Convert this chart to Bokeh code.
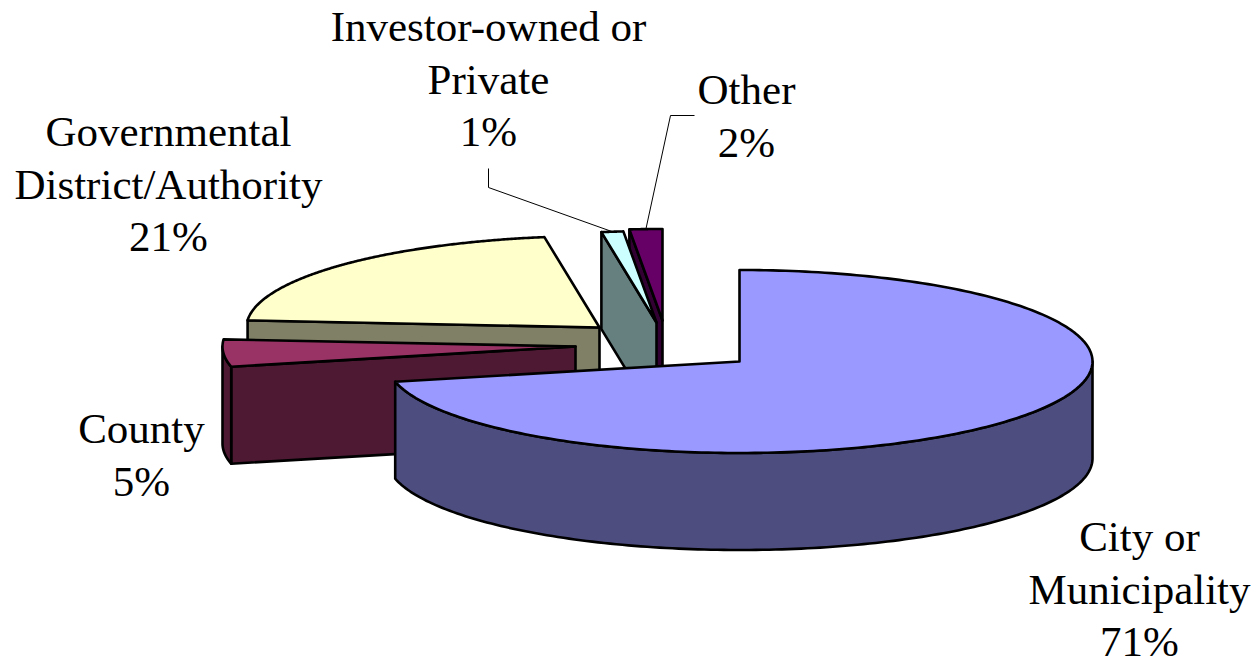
import numpy as np
from bokeh.plotting import figure
from bokeh.models import Range1d
from bokeh.core.properties import value
from bokeh.embed import file_html
from bokeh.resources import INLINE

# data
categories = ["City or Municipality", "County", "Governmental District/Authority",
              "Investor-owned or Private", "Other"]
shares = [71.6, 4.8, 21.3, 1.0, 1.5]
percent_labels = ["71%", "5%", "21%", "1%", "2%"]
label_lines = [["City or", "Municipality"], ["County"],
               ["Governmental", "District/Authority"],
               ["Investor-owned or", "Private"], ["Other"]]

# style and layout
top_colors = ["#9999ff", "#993366", "#ffffcc", "#ccffff", "#660066"]
side_colors = ["#4d4d80", "#4d1933", "#808066", "#668080", "#330033"]
explode = [(0, 0), (-164, -15), (-140, -34), (-83, -39), (-77, -41)]
label_x = [1139, 141, 168, 488, 746]
label_y = [536, 428, 131, 26, 89]
line_step = 52.5
cx, cy, rx, ry, depth = 739, 361, 353, 91.5, 97
W, H = 1259, 660
FONT = "Liberation Serif"

p = figure(width=W, height=H, output_backend="svg", toolbar_location=None,
           x_range=Range1d(0, W), y_range=Range1d(H, 0),
           min_border=0, outline_line_color=None, background_fill_color="white",
           border_fill_color="white")
p.axis.visible = False
p.grid.visible = False

total = sum(shares)
edges = np.concatenate([[0], np.cumsum(shares)]) / total * 2 * np.pi


def rim(ax, ay, t):
    return ax + rx * np.sin(t), ay - ry * np.cos(t)


LW = 2.6
# draw back to front: smallest wedges at the back, the large one in front
for i in [4, 3, 2, 1, 0]:
    a0, a1 = edges[i], edges[i + 1]
    ax, ay = cx + explode[i][0], cy + explode[i][1]
    kw_side = dict(fill_color=side_colors[i], line_color="black", line_width=LW, line_join="round")

    # the clockwise-start cut face is the one turned towards the viewer
    if i != 0:
        x0, y0 = rim(ax, ay, a0)
        p.patch([ax, x0, x0, ax], [ay, y0, y0 + depth, ay + depth], **kw_side)

    # outer wall: only the part on the front half of the ellipse
    lo, hi = max(a0, np.pi / 2), min(a1, 3 * np.pi / 2)
    if hi > lo:
        t = np.linspace(lo, hi, 160)
        xr, yr = rim(ax, ay, t)
        p.patch(np.r_[xr, xr[::-1]], np.r_[yr, yr[::-1] + depth], **kw_side)

    # top face
    t = np.linspace(a0, a1, 240)
    xr, yr = rim(ax, ay, t)
    p.patch(np.r_[ax, xr], np.r_[ay, yr], fill_color=top_colors[i],
            line_color="black", line_width=LW, line_join="round")

# leader lines from the rim midpoints to the labels
for i, (mx, my) in {3: (488, 168), 4: (694, 115)}.items():
    ax, ay = cx + explode[i][0], cy + explode[i][1]
    ex, ey = rim(ax, ay, (edges[i] + edges[i + 1]) / 2)
    if i == 3:
        xs, ys = [mx, mx, ex], [my, my + 19, ey]
    else:
        xs, ys = [mx, mx - 24, ex], [my, my, ey]
    p.line(xs, ys, line_color="black", line_width=1)

# labels
for i in range(len(categories)):
    rows = label_lines[i] + [percent_labels[i]]
    ys = [label_y[i] + k * line_step for k in range(len(rows))]
    p.text([label_x[i]] * len(rows), ys, text=rows, text_font=value(FONT),
           text_font_size="43px", text_align="center", text_baseline="alphabetic",
           text_color="black")

open("out.html", "w").write(file_html(p, INLINE))
